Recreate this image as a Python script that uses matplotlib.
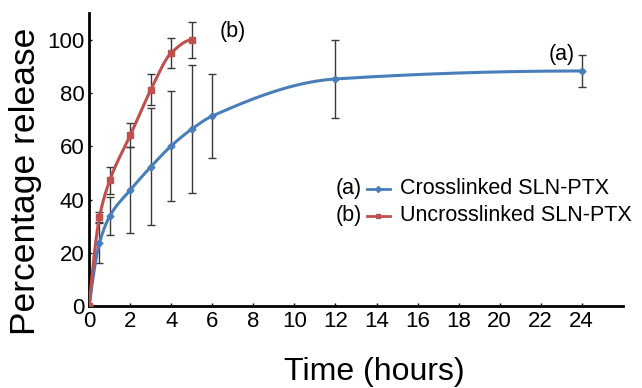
import numpy as np
import matplotlib
matplotlib.use("Agg")
import matplotlib.pyplot as plt

plt.rcParams['font.family'] = ['Liberation Sans', 'DejaVu Sans']

# release data (hours, % released, error)
time_a = [0, 0.5, 1, 2, 3, 4, 5, 6, 12, 24]
release_a = [0, 23.7, 33.8, 43.6, 52.3, 60.2, 66.5, 71.4, 85.3, 88.3]
err_a = [0, 7.5, 7, 16, 22, 20.6, 24, 15.6, 14.5, 6]

time_b = [0, 0.5, 1, 2, 3, 4, 5]
release_b = [0, 33.5, 47.2, 64.2, 81.2, 95.1, 100]
err_b = [0, 2, 5, 4.5, 5.8, 5.6, 6.8]

tags = ["(a)", "(b)"]
labels = ["Crosslinked SLN-PTX", "Uncrosslinked SLN-PTX"]
blue = "#4a7ebb"
red = "#c0504d"


def pchip(x, y, xs):
    # monotone cubic through the measured points, used only for the drawn curve
    x = np.asarray(x, float)
    y = np.asarray(y, float)
    h = np.diff(x)
    d = np.diff(y) / h
    m = np.zeros_like(y)
    for k in range(1, len(x) - 1):
        if d[k - 1] * d[k] > 0:
            w1 = 2 * h[k] + h[k - 1]
            w2 = h[k] + 2 * h[k - 1]
            m[k] = (w1 + w2) / (w1 / d[k - 1] + w2 / d[k])
    m[0] = max(0, ((2 * h[0] + h[1]) * d[0] - h[0] * d[1]) / (h[0] + h[1]))
    m[-1] = max(0, ((2 * h[-1] + h[-2]) * d[-1] - h[-1] * d[-2]) / (h[-1] + h[-2]))
    idx = np.clip(np.searchsorted(x, xs) - 1, 0, len(h) - 1)
    t = (xs - x[idx]) / h[idx]
    h00 = 2 * t**3 - 3 * t**2 + 1
    h10 = t**3 - 2 * t**2 + t
    h01 = -2 * t**3 + 3 * t**2
    h11 = t**3 - t**2
    return (h00 * y[idx] + h10 * h[idx] * m[idx]
            + h01 * y[idx + 1] + h11 * h[idx] * m[idx + 1])


fig = plt.figure(figsize=(6.42, 3.88), dpi=100)
ax = fig.add_axes([0.139, 0.211, 0.831, 0.755])

series = [(time_a, release_a, err_a, blue, "D", 3.5),
          (time_b, release_b, err_b, red, "s", 4)]
for t, r, e, c, mk, ms in series:
    ax.errorbar(t, r, yerr=e, fmt="none", ecolor="#3a3a3a", elinewidth=1,
                capsize=3, capthick=1, zorder=2)
    xs = np.linspace(t[0], t[-1], 400)
    ax.plot(xs, pchip(t, r, xs), color=c, lw=2.2, zorder=3)
    ax.plot(t, r, ls="none", marker=mk, ms=ms, color=c, zorder=4)

ax.set_xlim(0, 26)
ax.set_ylim(0, 110)
ax.set_xticks(range(0, 25, 2))
ax.set_yticks(range(0, 101, 20))
ax.tick_params(axis="both", labelsize=16, length=2, width=1, direction="in")
ax.spines["top"].set_visible(False)
ax.spines["right"].set_visible(False)
ax.spines["left"].set_linewidth(2)
ax.spines["bottom"].set_linewidth(2)

ax.text(0.534, -0.225, "Time (hours)", transform=ax.transAxes,
        fontsize=23, ha="center", va="center")
ax.text(-0.12, 0.427, "Percentage release", transform=ax.transAxes,
        fontsize=25.5, ha="center", va="center", rotation=90)

ax.text(6.35, 103, "(b)", fontsize=15.5, ha="left", va="center")
ax.text(22.4, 94.5, "(a)", fontsize=15.5, ha="left", va="center")

# legend rows: "(x)" then a sample line then the name
for i, (tag, name, s) in enumerate(zip(tags, labels, series)):
    yy = 0.400 - i * 0.092
    c, mk = s[3], s[4]
    ax.text(0.4625, yy, tag, transform=ax.transAxes, fontsize=15.5,
            ha="left", va="center")
    ax.plot([0.5206, 0.5637], [yy, yy], transform=ax.transAxes,
            color=c, lw=2, clip_on=False)
    ax.plot([0.542], [yy], transform=ax.transAxes, marker=mk,
            ms=3, color=c, clip_on=False)
    ax.text(0.582, yy, name, transform=ax.transAxes, fontsize=15.5,
            ha="left", va="center")

fig.savefig("out.png", dpi=100)
